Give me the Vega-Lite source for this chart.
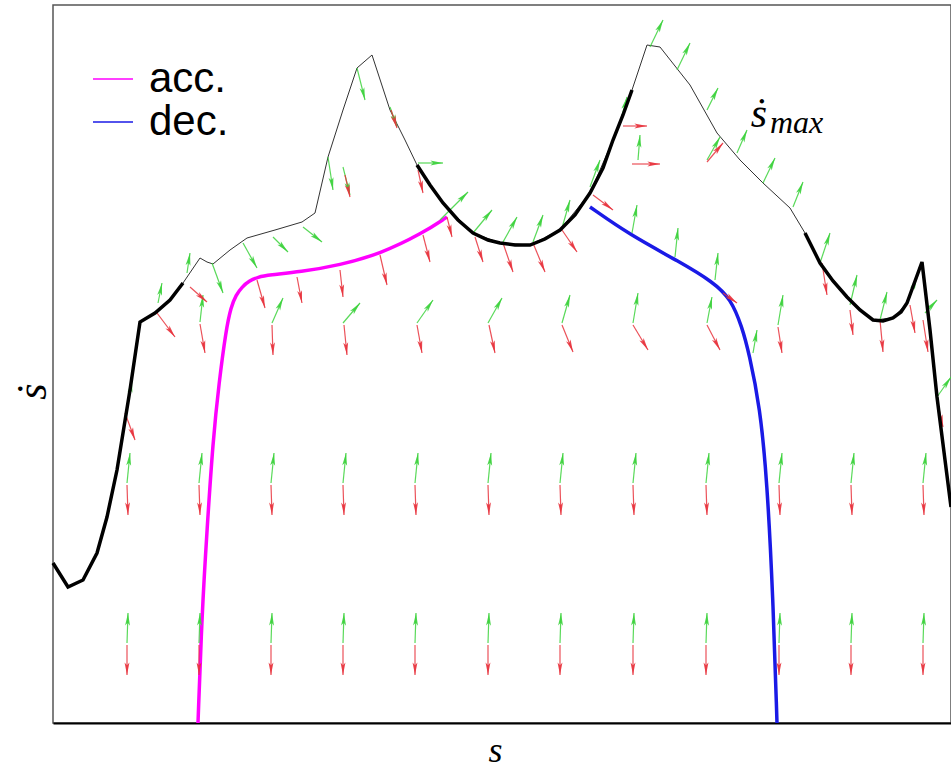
{
  "$schema": "https://vega.github.io/schema/vega-lite/v6.json",
  "width": 898,
  "height": 718,
  "autosize": {"type": "none"},
  "padding": {"left": 53, "top": 5, "right": 0, "bottom": 48},
  "background": "white",
  "config": {
    "view": {"stroke": "#555", "strokeWidth": 1.5},
    "legend": {
      "orient": "none", "legendX": 39, "legendY": 53,
      "symbolType": "stroke", "symbolSize": 1600, "symbolStrokeWidth": 1.5,
      "labelFont": "Liberation Sans", "labelFontSize": 42, "labelOffset": 15,
      "labelColor": "black", "rowPadding": 1, "title": null
    }
  },
  "resolve": {"scale": {"color": "independent"}},
  "layer": [
    {
      "data": {"values": [
        {"s":0,"v":160},{"s":15,"v":136},{"s":30,"v":143},{"s":44,"v":170},{"s":54,"v":206},{"s":64,"v":253},{"s":77,"v":333},{"s":87,"v":401},{"s":102,"v":410},{"s":117,"v":423},{"s":130,"v":440},{"s":147,"v":465},{"s":154,"v":461},{"s":160,"v":459},{"s":177,"v":473},{"s":194,"v":485},{"s":222,"v":493},{"s":249,"v":501},{"s":262,"v":510},{"s":275,"v":566},{"s":290,"v":613},{"s":304,"v":655},{"s":319,"v":668},{"s":337,"v":613},{"s":352,"v":583},{"s":364,"v":558},{"s":390,"v":520},{"s":420,"v":490},{"s":447,"v":480},{"s":477,"v":478},{"s":507,"v":493},{"s":537,"v":530},{"s":560,"v":583},{"s":579,"v":633},{"s":594,"v":678},{"s":607,"v":676},{"s":637,"v":638},{"s":664,"v":590},{"s":687,"v":563},{"s":710,"v":540},{"s":737,"v":515},{"s":752,"v":490},{"s":767,"v":460},{"s":794,"v":426},{"s":820,"v":403},{"s":840,"v":405},{"s":854,"v":420},{"s":869,"v":461},{"s":877,"v":393},{"s":884,"v":326},{"s":898,"v":216}
      ]},
      "mark": {"type": "line", "color": "#333", "strokeWidth": 1},
      "encoding": {
        "x": {"field": "s", "type": "quantitative", "scale": {"domain": [0, 898], "nice": false, "zero": false},
          "axis": {"title": "s", "labels": false, "ticks": false, "grid": false, "domainColor": "black", "domainWidth": 2,
            "titleFont": "Liberation Serif", "titleFontStyle": "italic", "titleFontWeight": "normal", "titleFontSize": 36,
            "titleColor": "black", "titleBaseline": "alphabetic", "titleAlign": "center", "titleX": 442, "titleY": 38}},
        "y": {"field": "v", "type": "quantitative", "scale": {"domain": [0, 718], "nice": false, "zero": false},
          "axis": {"title": "ṡ", "labels": false, "ticks": false, "grid": false, "domain": false,
            "titleFont": "Liberation Serif", "titleFontStyle": "italic", "titleFontWeight": "normal", "titleFontSize": 42,
            "titleColor": "black", "titleBaseline": "alphabetic", "titleAlign": "center", "titleAngle": -90, "titleX": -8, "titleY": 386}}
      }
    },
    {
      "data": {"values": [
        {"k":"acc.","s":145,"v":0},{"k":"acc.","s":149,"v":110},{"k":"acc.","s":154,"v":193},{"k":"acc.","s":160,"v":283},{"k":"acc.","s":166,"v":340},{"k":"acc.","s":173,"v":393},{"k":"acc.","s":178,"v":416},{"k":"acc.","s":183,"v":428},{"k":"acc.","s":189,"v":436},{"k":"acc.","s":196,"v":442},{"k":"acc.","s":205,"v":446},{"k":"acc.","s":216,"v":448},{"k":"acc.","s":247,"v":451},{"k":"acc.","s":287,"v":458},{"k":"acc.","s":327,"v":469},{"k":"acc.","s":370,"v":490},{"k":"acc.","s":394,"v":506},
        {"k":"dec.","s":537,"v":516},{"k":"dec.","s":577,"v":488},{"k":"dec.","s":627,"v":461},{"k":"dec.","s":660,"v":441},{"k":"dec.","s":678,"v":424},{"k":"dec.","s":689,"v":396},{"k":"dec.","s":696,"v":370},{"k":"dec.","s":707,"v":316},{"k":"dec.","s":714,"v":243},{"k":"dec.","s":720,"v":126},{"k":"dec.","s":724,"v":0}
      ]},
      "mark": {"type": "line", "strokeWidth": 3.5, "interpolate": "basis"},
      "encoding": {
        "x": {"field": "s", "type": "quantitative"},
        "y": {"field": "v", "type": "quantitative"},
        "color": {"field": "k", "type": "nominal", "scale": {"domain": ["acc.", "dec."], "range": ["#ff00ff", "#1a1ae6"]}}
      }
    },
    {
      "data": {"name": "arrows"},
      "layer": [
        {
          "mark": {"type": "rule", "strokeWidth": 1.2, "opacity": 0.85},
          "encoding": {
            "x": {"field": "s", "type": "quantitative"},
            "y": {"field": "v", "type": "quantitative"},
            "x2": {"field": "s2"},
            "y2": {"field": "v2"},
            "color": {"field": "c", "type": "nominal", "legend": null, "scale": {"domain": ["g", "r"], "range": ["#3cd23c", "#e8323c"]}}
          }
        },
        {
          "mark": {"type": "point", "shape": "M0,0L0.35,1.8L0,1.4L-0.35,1.8Z", "filled": true, "size": 196, "opacity": 0.9, "strokeWidth": 0},
          "encoding": {
            "x": {"field": "s2", "type": "quantitative"},
            "y": {"field": "v2", "type": "quantitative"},
            "angle": {"field": "d", "type": "quantitative", "scale": null},
            "color": {"field": "c", "type": "nominal", "legend": null, "scale": {"domain": ["g", "r"], "range": ["#3cd23c", "#e8323c"]}}
          }
        }
      ]
    },
    {
      "data": {"values": [
        {"g":"t1","s":0,"v":160},{"g":"t1","s":15,"v":136},{"g":"t1","s":30,"v":143},{"g":"t1","s":44,"v":170},{"g":"t1","s":54,"v":206},{"g":"t1","s":64,"v":253},{"g":"t1","s":77,"v":333},{"g":"t1","s":87,"v":401},{"g":"t1","s":102,"v":410},{"g":"t1","s":117,"v":423},{"g":"t1","s":130,"v":440},
        {"g":"t2","s":364,"v":558},{"g":"t2","s":377,"v":538},{"g":"t2","s":390,"v":520},{"g":"t2","s":405,"v":503},{"g":"t2","s":420,"v":490},{"g":"t2","s":435,"v":483},{"g":"t2","s":447,"v":480},{"g":"t2","s":462,"v":478},{"g":"t2","s":477,"v":478},{"g":"t2","s":492,"v":484},{"g":"t2","s":507,"v":493},{"g":"t2","s":522,"v":508},{"g":"t2","s":537,"v":530},{"g":"t2","s":550,"v":555},{"g":"t2","s":560,"v":583},{"g":"t2","s":570,"v":608},{"g":"t2","s":579,"v":633},
        {"g":"t3","s":752,"v":490},{"g":"t3","s":767,"v":460},{"g":"t3","s":780,"v":442},{"g":"t3","s":794,"v":426},{"g":"t3","s":807,"v":413},{"g":"t3","s":820,"v":403},{"g":"t3","s":830,"v":402},{"g":"t3","s":840,"v":405},{"g":"t3","s":848,"v":411},{"g":"t3","s":854,"v":420},{"g":"t3","s":869,"v":461},{"g":"t3","s":877,"v":393},{"g":"t3","s":884,"v":326},{"g":"t3","s":898,"v":216}
      ]},
      "mark": {"type": "line", "color": "black", "strokeWidth": 3.5},
      "encoding": {
        "x": {"field": "s", "type": "quantitative"},
        "y": {"field": "v", "type": "quantitative"},
        "detail": {"field": "g"}
      }
    },
    {
      "data": {"values": [{"s": 706, "v": 596, "t": "ṡ"}]},
      "mark": {"type": "text", "font": "Liberation Serif", "fontStyle": "italic", "fontSize": 42, "align": "center", "baseline": "alphabetic", "color": "black"},
      "encoding": {"x": {"field": "s", "type": "quantitative"}, "y": {"field": "v", "type": "quantitative"}, "text": {"field": "t"}}
    },
    {
      "data": {"values": [{"s": 717, "v": 590, "t": "max"}]},
      "mark": {"type": "text", "font": "Liberation Serif", "fontStyle": "italic", "fontSize": 32, "align": "left", "baseline": "alphabetic", "color": "black"},
      "encoding": {"x": {"field": "s", "type": "quantitative"}, "y": {"field": "v", "type": "quantitative"}, "text": {"field": "t"}}
    }
  ],
  "datasets": {
    "arrows": [
      {"c":"g","s":74,"v":80,"s2":75,"v2":110,"d":2},{"c":"r","s":74,"v":78,"s2":74,"v2":48,"d":180},
      {"c":"g","s":146,"v":80,"s2":147,"v2":110,"d":2},{"c":"r","s":146,"v":78,"s2":146,"v2":48,"d":180},
      {"c":"g","s":218,"v":80,"s2":219,"v2":110,"d":2},{"c":"r","s":218,"v":78,"s2":218,"v2":48,"d":180},
      {"c":"g","s":290,"v":80,"s2":291,"v2":110,"d":2},{"c":"r","s":290,"v":78,"s2":290,"v2":48,"d":180},
      {"c":"g","s":362,"v":80,"s2":363,"v2":110,"d":2},{"c":"r","s":362,"v":78,"s2":362,"v2":48,"d":180},
      {"c":"g","s":435,"v":80,"s2":436,"v2":110,"d":2},{"c":"r","s":435,"v":78,"s2":435,"v2":48,"d":180},
      {"c":"g","s":507,"v":80,"s2":508,"v2":110,"d":2},{"c":"r","s":507,"v":78,"s2":507,"v2":48,"d":180},
      {"c":"g","s":580,"v":80,"s2":581,"v2":110,"d":2},{"c":"r","s":580,"v":78,"s2":580,"v2":48,"d":180},
      {"c":"g","s":653,"v":80,"s2":654,"v2":110,"d":2},{"c":"r","s":653,"v":78,"s2":653,"v2":48,"d":180},
      {"c":"g","s":726,"v":80,"s2":727,"v2":110,"d":2},{"c":"r","s":726,"v":78,"s2":726,"v2":48,"d":180},
      {"c":"g","s":798,"v":80,"s2":799,"v2":110,"d":2},{"c":"r","s":798,"v":78,"s2":798,"v2":48,"d":180},
      {"c":"g","s":870,"v":80,"s2":871,"v2":110,"d":2},{"c":"r","s":870,"v":78,"s2":870,"v2":48,"d":180},
      {"c":"g","s":74,"v":240,"s2":77,"v2":270,"d":6},{"c":"r","s":74,"v":238,"s2":75,"v2":208,"d":178},
      {"c":"g","s":146,"v":240,"s2":149,"v2":270,"d":6},{"c":"r","s":146,"v":238,"s2":147,"v2":208,"d":178},
      {"c":"g","s":218,"v":240,"s2":221,"v2":270,"d":6},{"c":"r","s":218,"v":238,"s2":219,"v2":208,"d":178},
      {"c":"g","s":290,"v":240,"s2":293,"v2":270,"d":6},{"c":"r","s":290,"v":238,"s2":291,"v2":208,"d":178},
      {"c":"g","s":362,"v":240,"s2":365,"v2":270,"d":6},{"c":"r","s":362,"v":238,"s2":363,"v2":208,"d":178},
      {"c":"g","s":435,"v":240,"s2":438,"v2":270,"d":6},{"c":"r","s":435,"v":238,"s2":436,"v2":208,"d":178},
      {"c":"g","s":507,"v":240,"s2":510,"v2":270,"d":6},{"c":"r","s":507,"v":238,"s2":508,"v2":208,"d":178},
      {"c":"g","s":580,"v":240,"s2":583,"v2":270,"d":6},{"c":"r","s":580,"v":238,"s2":581,"v2":208,"d":178},
      {"c":"g","s":653,"v":240,"s2":656,"v2":270,"d":6},{"c":"r","s":653,"v":238,"s2":654,"v2":208,"d":178},
      {"c":"g","s":726,"v":240,"s2":729,"v2":270,"d":6},{"c":"r","s":726,"v":238,"s2":727,"v2":208,"d":178},
      {"c":"g","s":798,"v":240,"s2":801,"v2":270,"d":6},{"c":"r","s":798,"v":238,"s2":799,"v2":208,"d":178},
      {"c":"g","s":870,"v":240,"s2":873,"v2":270,"d":6},{"c":"r","s":870,"v":238,"s2":871,"v2":208,"d":178},
      {"c":"g","s":147,"v":401,"s2":150,"v2":428,"d":6},{"c":"r","s":147,"v":399,"s2":152,"v2":370,"d":170},
      {"c":"g","s":219,"v":400,"s2":230,"v2":425,"d":24},{"c":"r","s":219,"v":398,"s2":220,"v2":368,"d":178},
      {"c":"g","s":290,"v":400,"s2":307,"v2":420,"d":40},{"c":"r","s":291,"v":398,"s2":294,"v2":368,"d":174},
      {"c":"g","s":364,"v":400,"s2":380,"v2":423,"d":35},{"c":"r","s":364,"v":398,"s2":369,"v2":370,"d":170},
      {"c":"g","s":435,"v":400,"s2":449,"v2":425,"d":29},{"c":"r","s":436,"v":398,"s2":442,"v2":370,"d":168},
      {"c":"g","s":509,"v":400,"s2":517,"v2":428,"d":16},{"c":"r","s":509,"v":398,"s2":520,"v2":371,"d":158},
      {"c":"g","s":580,"v":400,"s2":585,"v2":430,"d":9},{"c":"r","s":580,"v":398,"s2":595,"v2":373,"d":149},
      {"c":"g","s":654,"v":400,"s2":659,"v2":426,"d":11},{"c":"r","s":654,"v":398,"s2":667,"v2":373,"d":152},
      {"c":"g","s":725,"v":398,"s2":730,"v2":428,"d":9},{"c":"r","s":725,"v":396,"s2":729,"v2":370,"d":171},
      {"c":"g","s":797,"v":418,"s2":804,"v2":448,"d":13},{"c":"r","s":797,"v":413,"s2":800,"v2":388,"d":173},
      {"c":"g","s":872,"v":410,"s2":884,"v2":423,"d":43},{"c":"r","s":870,"v":403,"s2":875,"v2":371,"d":171},
      {"c":"g","s":275,"v":566,"s2":280,"v2":533,"d":171},{"c":"g","s":290,"v":556,"s2":297,"v2":528,"d":166},{"c":"r","s":292,"v":548,"s2":297,"v2":526,"d":167},
      {"c":"g","s":365,"v":560,"s2":390,"v2":560,"d":90},{"c":"r","s":365,"v":553,"s2":370,"v2":530,"d":168},
      {"c":"g","s":585,"v":563,"s2":587,"v2":588,"d":5},{"c":"r","s":570,"v":597,"s2":594,"v2":597,"d":90},{"c":"r","s":579,"v":559,"s2":607,"v2":559,"d":90},
      {"c":"g","s":654,"v":563,"s2":667,"v2":586,"d":29},{"c":"r","s":654,"v":561,"s2":670,"v2":580,"d":40},
      {"c":"g","s":74,"v":313,"s2":79,"v2":343,"d":9},{"c":"r","s":72,"v":310,"s2":82,"v2":283,"d":160},
      {"c":"g","s":105,"v":420,"s2":109,"v2":440,"d":11},{"c":"r","s":104,"v":410,"s2":122,"v2":386,"d":143},
      {"c":"g","s":134,"v":450,"s2":137,"v2":470,"d":9},{"c":"r","s":137,"v":436,"s2":154,"v2":421,"d":131},
      {"c":"g","s":159,"v":460,"s2":170,"v2":430,"d":160},
      {"c":"g","s":190,"v":480,"s2":204,"v2":455,"d":151},
      {"c":"g","s":220,"v":486,"s2":235,"v2":471,"d":135},
      {"c":"g","s":250,"v":496,"s2":269,"v2":481,"d":128},
      {"c":"g","s":304,"v":655,"s2":312,"v2":623,"d":166},
      {"c":"g","s":337,"v":616,"s2":344,"v2":596,"d":161},{"c":"r","s":338,"v":613,"s2":344,"v2":595,"d":162},
      {"c":"r","s":204,"v":443,"s2":212,"v2":415,"d":164},{"c":"r","s":244,"v":446,"s2":249,"v2":420,"d":169},{"c":"r","s":287,"v":453,"s2":290,"v2":426,"d":174},{"c":"r","s":327,"v":468,"s2":334,"v2":438,"d":167},{"c":"r","s":370,"v":488,"s2":377,"v2":461,"d":165},{"c":"r","s":394,"v":506,"s2":399,"v2":486,"d":166},
      {"c":"g","s":387,"v":503,"s2":415,"v2":531,"d":45},
      {"c":"r","s":422,"v":486,"s2":430,"v2":461,"d":162},{"c":"r","s":450,"v":480,"s2":460,"v2":451,"d":161},{"c":"r","s":480,"v":480,"s2":492,"v2":451,"d":157},{"c":"r","s":509,"v":493,"s2":524,"v2":471,"d":146},
      {"c":"g","s":420,"v":490,"s2":439,"v2":513,"d":40},{"c":"g","s":450,"v":481,"s2":464,"v2":506,"d":29},{"c":"g","s":480,"v":481,"s2":490,"v2":508,"d":20},{"c":"g","s":509,"v":495,"s2":517,"v2":523,"d":16},
      {"c":"g","s":567,"v":600,"s2":574,"v2":626,"d":15},
      {"c":"g","s":537,"v":536,"s2":547,"v2":563,"d":20},
      {"c":"r","s":540,"v":528,"s2":560,"v2":513,"d":127},
      {"c":"g","s":579,"v":490,"s2":584,"v2":518,"d":10},{"c":"g","s":622,"v":466,"s2":625,"v2":495,"d":6},{"c":"g","s":662,"v":443,"s2":665,"v2":470,"d":6},{"c":"g","s":700,"v":370,"s2":704,"v2":393,"d":10},
      {"c":"r","s":670,"v":430,"s2":684,"v2":420,"d":126},
      {"c":"g","s":597,"v":676,"s2":610,"v2":703,"d":26},
      {"c":"g","s":624,"v":653,"s2":637,"v2":680,"d":26},{"c":"g","s":654,"v":613,"s2":665,"v2":635,"d":27},{"c":"g","s":684,"v":570,"s2":694,"v2":593,"d":23},{"c":"g","s":710,"v":540,"s2":722,"v2":565,"d":26},{"c":"g","s":740,"v":516,"s2":750,"v2":541,"d":22},{"c":"g","s":767,"v":460,"s2":777,"v2":490,"d":18},
      {"c":"r","s":769,"v":460,"s2":774,"v2":428,"d":171},{"c":"r","s":827,"v":403,"s2":830,"v2":371,"d":175},{"c":"g","s":827,"v":403,"s2":834,"v2":431,"d":14},
      {"c":"g","s":854,"v":420,"s2":864,"v2":446,"d":21},{"c":"r","s":857,"v":418,"s2":862,"v2":390,"d":170},
      {"c":"g","s":884,"v":326,"s2":898,"v2":346,"d":35},{"c":"r","s":884,"v":323,"s2":890,"v2":296,"d":167}
    ]
  }
}
